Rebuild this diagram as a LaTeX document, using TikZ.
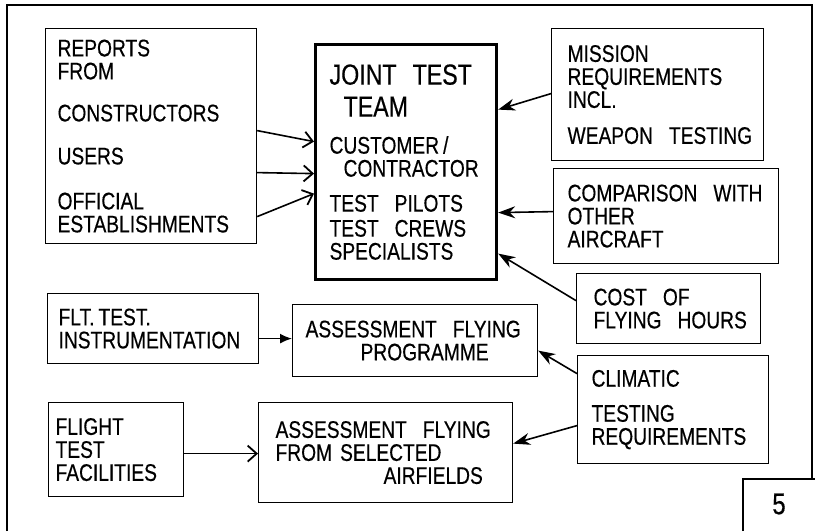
\documentclass[tikz,border=0pt]{standalone}
\usepackage{fontspec}
\newfontfamily\diagfont{Liberation Sans}[FakeStretch=0.80,FakeBold=0.4]
\usepackage{tikz}
\usetikzlibrary{arrows.meta}

\newcommand{\boxfont}{\diagfont\fontsize{24}{23}\selectfont\hyphenpenalty=10000}
\newcommand{\teamfont}{\fontsize{29}{23}\selectfont}

\tikzset{
  panel/.style={draw, line width=1.2pt, anchor=north west, align=left,
    inner ysep=0pt, font=\boxfont},
  feed/.style={line width=1.6pt, -{Stealth[length=17pt,width=12pt]}},
  openfeed/.style={line width=1.6pt, -{Straight Barb[length=9pt,width=16pt,line width=1.8pt]}},
  solidfeed/.style={line width=1.6pt, -{Latex[length=12pt,width=10pt]}}
}

\begin{document}
\begin{tikzpicture}[x=1pt,y=-1pt]
\useasboundingbox (0,0) rectangle (815,531);
\fill[white] (0,0) rectangle (815,531);

% frame and page number
\draw[line width=1.2pt] (7,531) -- (7,5) -- (812,5) -- (812,479);
\draw[line width=1.2pt] (743,531) |- (815,479);
\node[font=\diagfont\fontsize{30}{30}\selectfont] (pageno) at (779,504) {5};

% boxes
\node[panel, inner xsep=12pt, text width=187pt, minimum width=211pt, minimum height=215pt]
  (reports) at (45,28)
  {REPORTS\\FROM\\[19pt]CONSTRUCTORS\\[20pt]USERS\\[22pt]OFFICIAL\\ESTABLISHMENTS};
\node[panel, line width=3.2pt, inner xsep=14pt, text width=153pt, minimum width=181pt, minimum height=235pt]
  (team) at (314,43)
  {{\teamfont JOINT\ \ TEST}\\[9pt]
   \hspace*{14pt}{\teamfont TEAM}\\[14pt]
   CUSTOMER\,/\\
   \hspace*{14pt}CONTRACTOR\\[12pt]
   TEST~~PILOTS\\[2pt]
   TEST~~CREWS\\
   SPECIALISTS};
\node[panel, inner xsep=16pt, text width=180pt, minimum width=212pt, minimum height=132pt]
  (mission) at (551,28)
  {MISSION\\REQUIREMENTS\\INCL.\\[13pt]WEAPON~~TESTING};
\node[panel, inner xsep=14pt, text width=197pt, minimum width=225pt, minimum height=95pt]
  (compare) at (553,168)
  {COMPARISON~~WITH\\OTHER\\AIRCRAFT};
\node[panel, inner xsep=17pt, text width=150pt, minimum width=184pt, minimum height=70pt]
  (cost) at (576,273)
  {COST~~OF\\FLYING~~HOURS};
\node[panel, inner xsep=14pt, text width=163pt, minimum width=191pt, minimum height=108pt]
  (climatic) at (577,355)
  {CLIMATIC\\[12pt]TESTING\\REQUIREMENTS};
\node[panel, inner xsep=11pt, text width=189pt, minimum width=211pt, minimum height=70pt]
  (instr) at (47,293)
  {FLT.\,TEST.\\INSTRUMENTATION};
\node[panel, inner xsep=13pt, text width=219pt, minimum width=245pt, minimum height=72pt]
  (programme) at (292,304)
  {ASSESSMENT~~FLYING\\\hspace*{55pt}PROGRAMME};
\node[panel, inner xsep=7pt, text width=121pt, minimum width=135pt, minimum height=94pt]
  (facilities) at (48,402)
  {FLIGHT\\TEST\\FACILITIES};
\node[panel, inner xsep=17pt, text width=220pt, minimum width=254pt, minimum height=100pt]
  (airfields) at (258,402)
  {ASSESSMENT~~FLYING\\FROM~SELECTED\\\hspace*{108pt}AIRFIELDS};

% connectors
\draw[openfeed] ([yshift=5.5pt]reports.east) -- ([yshift=20.5pt]team.west);
\draw[openfeed] ([yshift=-36.5pt]reports.east) -- ([yshift=-11.5pt]team.west);
\draw[openfeed] ([yshift=-80.5pt]reports.east) -- ([yshift=-31.5pt]team.west);
\draw[feed] ([yshift=1pt]mission.west) -- ([yshift=52.5pt]team.east);
\draw[feed] ([yshift=4.5pt]compare.west) -- ([yshift=-50.5pt]team.east);
\draw[feed] ([yshift=8pt]cost.west) -- ([yshift=-91.5pt]team.east);
\draw[feed] ([yshift=36pt]climatic.west) -- ([yshift=-10pt]programme.east);
\draw[feed] ([yshift=-16pt]climatic.west) -- ([yshift=9pt]airfields.east);
\draw[solidfeed] ([yshift=-10pt]instr.east) -- ([yshift=2pt]programme.west);
\draw[openfeed] ([yshift=-4pt]facilities.east) -- ([yshift=-1pt]airfields.west);
\end{tikzpicture}
\end{document}
